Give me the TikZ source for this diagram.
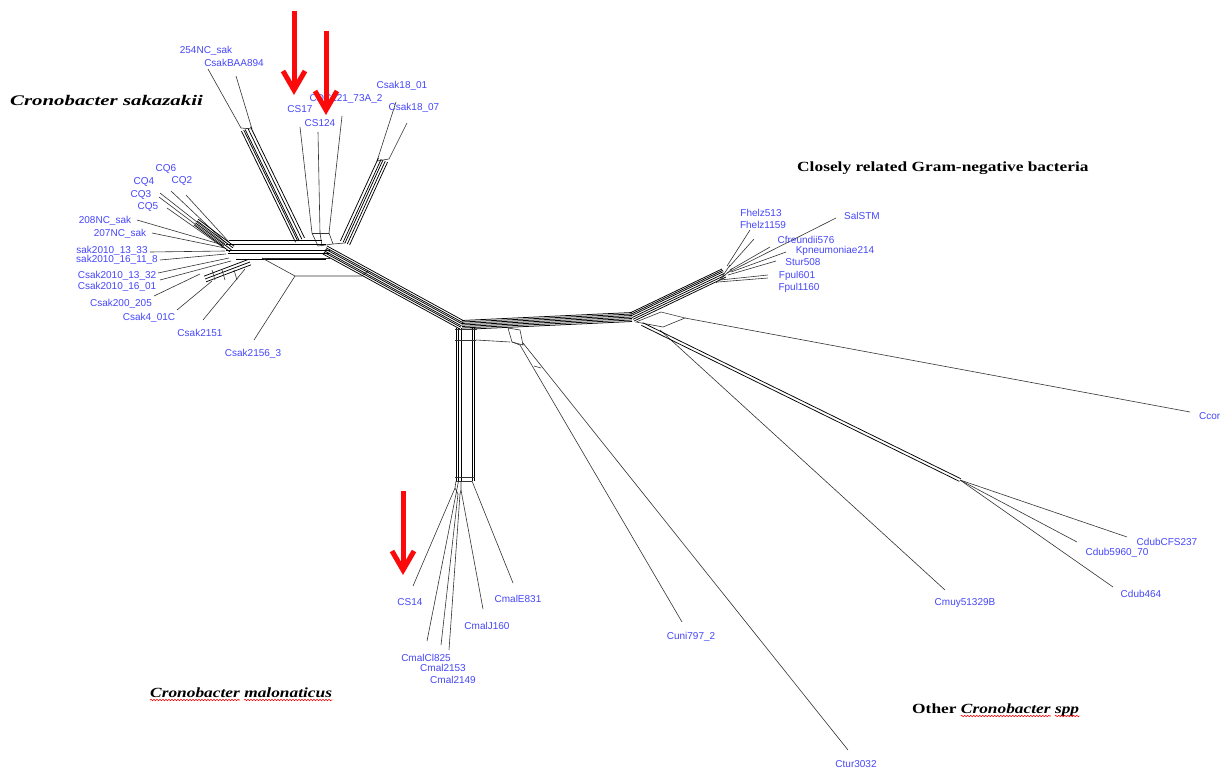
\documentclass[tikz,border=0pt]{standalone}
\usepackage{fontspec}
\usepackage{graphicx}
\setmainfont{Liberation Serif}
\newfontfamily\lblfont{Liberation Sans}
\newfontfamily\ttlfont[FakeStretch=1.24]{Liberation Serif}
\usetikzlibrary{calc,decorations.pathmorphing}
\definecolor{lblblue}{RGB}{70,70,250}
\definecolor{arrred}{RGB}{250,10,10}
\tikzset{
  edge/.style={line width=0.6pt, draw=black!80},
  bandline/.style={line width=0.75pt, draw=black},
  lbl/.style={font=\lblfont\fontsize{10}{12}\selectfont, text=lblblue, inner sep=0pt},
  ttl/.style={font=\ttlfont\fontsize{14}{16}\selectfont\bfseries, inner sep=0pt, anchor=base west},
  redarrow/.style={draw=arrred, line width=5pt},
  squig/.style={draw=red, line width=0.6pt, decorate, decoration={snake, amplitude=0.7pt, segment length=3pt}}
}
\newcommand\bandof[3]{\foreach \o in {#3}{\draw[bandline] ($(#1)!\o pt!90:(#2)$) -- ($(#2)!\o pt!-90:(#1)$);}}
\begin{document}
\begin{tikzpicture}[x=1pt,y=-1pt]
\useasboundingbox[fill=white] (0,0) rectangle (1228,771);

% ---------- leaves: name / label x / label y / text / tip x / tip y / inner x / inner y
\foreach \nm/\lx/\ly/\txt/\tx/\ty/\ix/\iy in {
 a1/206/51/254NC\_sak/208/69/241/128,
 a2/234/63/CsakBAA894/236/76/252/129,
 a3/300/109/CS17/300/127/312/233,
 a4/346/99/CDC121\_73A\_2/342/116/329/233,
 a5/320/123/CS124/318/132/320/233,
 a6/402/86/Csak18\_01/396/102/377/161,
 a7/414/108/Csak18\_07/407/123/389/159,
 b1/166/169/CQ6/171/191/226/243,
 b2/144/182/CQ4/160/193/225/244,
 b3/182/181/CQ2/186/195/229/242,
 b4/141/195/CQ3/159/197/224/246,
 b5/148/207/CQ5/167/208/224/248,
 b6/105/221/208NC\_sak/137/220/223/245,
 b7/120/234/207NC\_sak/152/233/225/248,
 b8/112/251/sak2010\_13\_33/150/252/225/251,
 b9/117/260/sak2010\_16\_11\_8/160/260/226/254,
 b10/117/276/Csak2010\_13\_32/158/273/229/258,
 b11/117/287/Csak2010\_16\_01/160/280/231/261,
 b12/121/304/Csak200\_205/154/296/200/274,
 b13/149/318/Csak4\_01C/177/310/212/281,
 b14/200/333/Csak2151/203/320/245/269,
 b15/253/354/Csak2156\_3/254/340/295/276,
 c1/761/213/Fhelz513/750/230/727/266,
 c2/763/225/Fhelz1159/754/239/729/267,
 c3/862/216/SalSTM/836/218/727/273,
 c4/806/240/Cfreundii576/770/247/730/270,
 c5/835/251/Kpneumoniae214/786/252/731/272,
 c6/803/262/Stur508/776/261/728/275,
 c7/797/276/Fpul601/768/275/720/280,
 c8/799/288/Fpul1160/768/278/718/282,
 d1/410/602/CS14/413/586/455/488,
 d2/426/658/CmalCl825/427/641/456/494,
 d3/443/668/Cmal2153/441/645/458/494,
 d4/453/680/Cmal2149/449/650/460/494,
 d5/487/626/CmalJ160/483/609/461/490,
 d6/518/599/CmalE831/513/583/472/481,
 e1/691/637/Cuni797\_2/682/622/520/345,
 e2/856/764/Ctur3032/848/750/523/343,
 e4/965/603/Cmuy51329B/945/590/660/330,
 e5/1167/542/CdubCFS237/1127/537/960/480,
 e6/1117/553/Cdub5960\_70/1077/542/960/480,
 e7/1141/594/Cdub464/1113/587/960/480}{
  \node[lbl] (\nm) at (\lx,\ly) {\txt};
  \coordinate (\nm t) at (\tx,\ty);
  \coordinate (\nm i) at (\ix,\iy);
  \draw[edge] (\nm t) -- (\nm i);
}
\node[lbl, anchor=west] (e3) at (1199,416) {Ccor};
\coordinate (e3t) at (1190,412);
\coordinate (e3i) at (685,318);
\draw[edge] (e3t) -- (e3i);

% ---------- internal splits
\coordinate (A0) at (246,129); \coordinate (A1) at (300,240);
\coordinate (B0) at (383,160); \coordinate (B1) at (345,243);
\coordinate (S1) at (325,250); \coordinate (S2) at (462,325);
\coordinate (S3) at (632,317); \coordinate (S4) at (724,273);
\coordinate (Q0) at (196,222); \coordinate (Q1) at (232,249);
\coordinate (L0) at (205,279); \coordinate (L1) at (250,262);
\coordinate (D0) at (642,324); \coordinate (D1) at (960,480);

\draw[edge] (a1i) -- (a2i);
\bandof{A0}{A1}{-5,-2.5,-1,2,5}
\draw[edge] (a6i) -- (a7i);
\bandof{B0}{B1}{-5,-2,0,2.5,5}
\draw[edge] (a3i) -- (318,246) -- (333,244) -- (329,233) (a5i) -- (322,246) (333,244) -- (345,243);
\draw[edge] (312,233) -- (329,233);
\bandof{Q0}{Q1}{-3.5,-1,1.5,3.5}
\foreach \yy/\xa/\xb in {240/229/322, 244/226/326, 250/226/330, 253/228/330, 259/236/326}
  \draw[bandline] (\xa,\yy) -- (\xb,\yy);
\bandof{L0}{L1}{-3,0,3}
\foreach \xx in {212,222,234}
  \draw[edge] (\xx,270) -- (\xx+3,280);
\draw[edge] (262,258) -- (b15i) -- (362,276) -- (368,271);
\draw[edge] (262,258) -- (330,258);

\bandof{S1}{S2}{-4.5,-2.5,-1,1,2.5,4.5}
\bandof{S2}{S3}{-4.5,-3,-1.5,0,1.5,3,4.5}
\bandof{S3}{S4}{-4.5,-2.5,-0.5,1.5,3,4.5}
\draw[edge] (720,280) -- (730,265) (716,283) -- (733,268);

% malonaticus column
\foreach \xx in {456,458.5,461,472,474.5}
  \draw[bandline] (\xx,328) -- (\xx,481);
\draw[edge] (455,329) -- (477,329) (455,340) -- (476,340);
\draw[edge] (455,477) -- (475,477) (456,481) -- (472,481);
\draw[edge] (456,481) -- (455,488) -- (458,494) (461,481) -- (461,490) -- (460,494) (458.5,481) -- (456,494);
\draw[edge] (476,340) -- (510,342);
\draw[edge] (508,328) -- (512,342) -- (523,345) -- (520,330) -- cycle;
\draw[edge] (512,342) -- (e1i) (523,345) -- (e2i);
\draw[edge] (534,366) -- (541,368);

% right hub
\draw[edge] (636,322) -- (661,312) -- (685,318) -- (663,327) -- cycle;
\bandof{D0}{D1}{-1.5,1.5}

% ---------- red arrows
\foreach \nm/\ax/\ay/\by in {r1/294/11/90, r2/326/31/110, r3/403/491/570}{
  \coordinate (\nm a) at (\ax,\ay);
  \coordinate (\nm b) at (\ax,\by);
  \draw[redarrow] (\nm a) -- ([yshift=2pt]\nm b);
  \draw[redarrow, line join=miter] ([xshift=-11pt,yshift=19pt]\nm b) -- (\nm b) -- ([xshift=11pt,yshift=19pt]\nm b);
}

% ---------- titles
\node[ttl] (tsak) at (10,105) {\scalebox{1.2}[1.05]{\itshape Cronobacter sakazakii}};
\node[ttl] (tgram) at (797,171) {Closely related Gram-negative bacteria};
\node[ttl] (tmal1) at (150,697) {\itshape Cronobacter};
\node[ttl] (tmal2) at ([xshift=4pt]tmal1.base east) {\itshape malonaticus};
\node[ttl] (toth1) at (912,713) {Other};
\node[ttl] (toth2) at ([xshift=4pt]toth1.base east) {\itshape Cronobacter};
\node[ttl] (toth3) at ([xshift=4pt]toth2.base east) {\itshape spp};
\foreach \nm in {tmal1,tmal2,toth2,toth3}
  \draw[squig] ([yshift=-3pt]\nm.base west) -- ([yshift=-3pt]\nm.base east);
\end{tikzpicture}
\end{document}
